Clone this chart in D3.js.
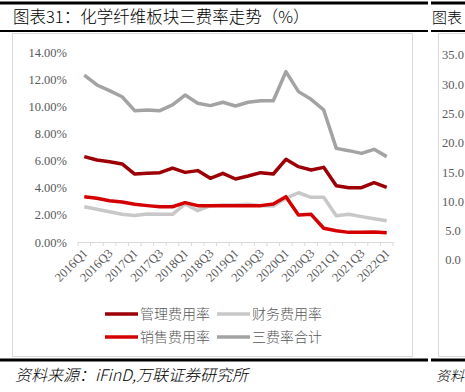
<!DOCTYPE html>
<html>
<head>
<meta charset="utf-8">
<script src="https://cdn.jsdelivr.net/npm/d3@7"></script>
<style>
  body { margin: 0; background: #fff; }
  svg { display: block; }
</style>
</head>
<body>
<svg id="chart"></svg>
<script>
const quarters = [
  "2016Q1","2016Q2","2016Q3","2016Q4","2017Q1","2017Q2","2017Q3","2017Q4",
  "2018Q1","2018Q2","2018Q3","2018Q4","2019Q1","2019Q2","2019Q3","2019Q4",
  "2020Q1","2020Q2","2020Q3","2020Q4","2021Q1","2021Q2","2021Q3","2021Q4","2022Q1"
];
const mgmtRate = [6.29,6.04,5.92,5.75,5.01,5.06,5.11,5.45,5.13,5.26,4.69,5.06,4.64,4.86,5.11,5.01,6.09,5.55,5.31,5.50,4.15,4.00,4.00,4.37,4.03];
const financeRate = [2.60,2.41,2.23,2.04,1.96,2.06,2.04,2.04,2.80,2.31,2.68,2.73,2.73,2.78,2.68,2.65,3.22,3.63,3.29,3.29,1.94,2.04,1.87,1.72,1.57];
const salesRate = [3.34,3.22,3.04,2.95,2.78,2.68,2.60,2.60,2.90,2.68,2.68,2.68,2.68,2.68,2.68,2.80,3.34,1.99,2.04,1.01,0.83,0.71,0.72,0.74,0.69];
const totalRate = [12.30,11.57,11.15,10.70,9.68,9.73,9.68,10.10,10.83,10.22,10.05,10.30,10.02,10.30,10.41,10.41,12.55,11.08,10.51,9.73,6.90,6.73,6.53,6.83,6.29];
const yTicks = [0,2,4,6,8,10,12,14];
const rightTicks = ["35.0","30.0","25.0","20.0","15.0","10.0"," 5.0"," 0.0"];

const W = 465, H = 392;
const svg = d3.select("#chart").attr("width", W).attr("height", H);
const serif = "'Liberation Serif','Noto Sans CJK SC',serif";
const cjk = "'Noto Sans CJK SC',sans-serif";

// page rules
[[3, 3], [31, 2], [360, 3]].forEach(([yy, sw]) => {
  svg.append("line").attr("x1", 0).attr("x2", 428).attr("y1", yy).attr("y2", yy)
    .attr("stroke", "#000").attr("stroke-width", sw);
  svg.append("line").attr("x1", 431).attr("x2", W).attr("y1", yy).attr("y2", yy)
    .attr("stroke", "#000").attr("stroke-width", sw);
});

// chart frames
svg.append("rect").attr("x", 12.5).attr("y", 33.5).attr("width", 400).attr("height", 323)
  .attr("fill", "none").attr("stroke", "#d9d9d9");
svg.append("rect").attr("x", 438.5).attr("y", 33.5).attr("width", 60).attr("height", 323)
  .attr("fill", "none").attr("stroke", "#d9d9d9");

// titles
svg.append("text").attr("x", 13).attr("y", 23).attr("font-family", cjk).attr("font-weight", 300)
  .attr("font-size", 16.5).attr("fill", "#000").text("图表31：化学纤维板块三费率走势（%）");
svg.append("text").attr("x", 432).attr("y", 23).attr("font-family", cjk).attr("font-weight", 300)
  .attr("font-size", 15).attr("fill", "#000").text("图表");
svg.append("text").attr("x", 15).attr("y", 381).attr("font-family", cjk).attr("font-weight", 300)
  .attr("font-size", 16).attr("font-style", "italic").attr("fill", "#000")
  .text("资料来源：iFinD,万联证券研究所");
svg.append("text").attr("x", 436).attr("y", 381).attr("font-family", cjk).attr("font-weight", 300)
  .attr("font-size", 14).attr("font-style", "italic").attr("fill", "#000")
  .text("资料");

// scales
const x = d3.scaleBand().domain(quarters).range([78, 393]);
const y = d3.scaleLinear().domain([0, 14]).range([242, 52]);

// y axis labels
const gy = svg.append("g").attr("transform", "translate(67,0)")
  .call(d3.axisLeft(y).tickValues(yTicks).tickSize(0).tickPadding(0)
    .tickFormat(d => d3.format(".2f")(d) + "%"));
gy.select(".domain").remove();
gy.selectAll("text").attr("font-family", serif).attr("font-size", 12.5).attr("fill", "#595959");

// x axis
const gx = svg.append("g").attr("transform", "translate(0,242)")
  .call(d3.axisBottom(x).tickSize(4).tickFormat((d, i) => i % 2 === 0 ? d : ""));
gx.select(".domain").attr("stroke", "#d9d9d9").attr("d", "M78,0.5H393");
gx.selectAll(".tick line").attr("stroke", "#d9d9d9")
  .attr("x1", -x.bandwidth() / 2).attr("x2", -x.bandwidth() / 2);
gx.append("line").attr("x1", 393).attr("x2", 393).attr("y1", 0).attr("y2", 4).attr("stroke", "#d9d9d9");
gx.selectAll(".tick text").attr("font-family", serif).attr("font-size", 12.5).attr("fill", "#595959")
  .attr("text-anchor", "end").attr("dy", 0).attr("y", 0)
  .attr("transform", "translate(4,12) rotate(-45)");

// series
const series = [
  { name: "管理费用率", values: mgmtRate, color: "#9c0006" },
  { name: "财务费用率", values: financeRate, color: "#c8c8c8" },
  { name: "销售费用率", values: salesRate, color: "#d40000" },
  { name: "三费率合计", values: totalRate, color: "#a3a3a3" }
];
const line = d3.line()
  .x((d, i) => x(quarters[i]) + x.bandwidth() / 2)
  .y(d => y(d));
svg.append("g").selectAll("path").data(series).join("path")
  .attr("d", d => line(d.values))
  .attr("fill", "none").attr("stroke", d => d.color).attr("stroke-width", 3.5)
  .attr("stroke-linejoin", "round");

// legend
const legendPos = [
  { s: 0, x: 105, y: 314 }, { s: 1, x: 217, y: 314 },
  { s: 2, x: 105, y: 337 }, { s: 3, x: 217, y: 337 }
];
const lg = svg.append("g").selectAll("g").data(legendPos).join("g")
  .attr("transform", d => `translate(${d.x},${d.y})`);
lg.append("line").attr("x1", 0).attr("x2", 33).attr("y1", 0).attr("y2", 0)
  .attr("stroke", d => series[d.s].color).attr("stroke-width", 3.5);
lg.append("text").attr("x", 35).attr("y", 0).attr("dy", "0.35em")
  .attr("font-family", cjk).attr("font-weight", 300).attr("font-size", 14).attr("fill", "#595959")
  .text(d => series[d.s].name);

// right-hand chart (cut off) axis labels
svg.append("g").selectAll("text").data(rightTicks).join("text")
  .attr("x", 442).attr("y", (d, i) => 55 + i * 29.3).attr("dy", "0.35em")
  .attr("font-family", serif).attr("font-size", 12.5).attr("fill", "#595959")
  .attr("xml:space", "preserve").style("white-space", "pre")
  .text(d => d);
</script>
</body>
</html>
